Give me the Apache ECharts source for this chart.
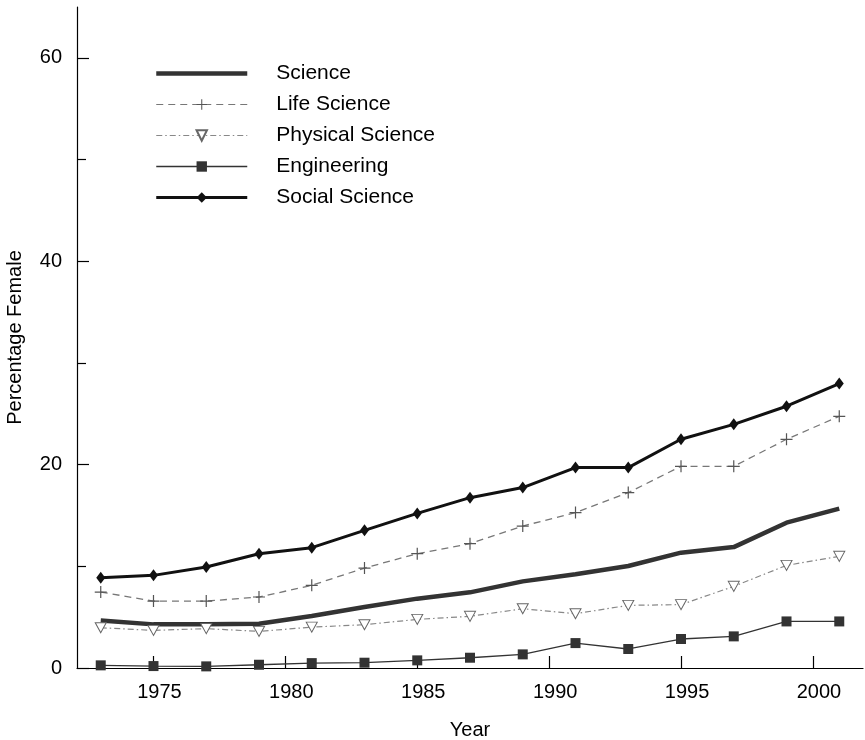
<!DOCTYPE html>
<html><head><meta charset="utf-8">
<script src="https://cdn.jsdelivr.net/npm/echarts@6/dist/echarts.min.js"></script>
<style>html,body{margin:0;padding:0;background:#fff}#c{width:865px;height:740px}</style>
</head><body><div id="c"></div>
<script>
const years = [1973,1975,1977,1979,1981,1983,1985,1987,1989,1991,1993,1995,1997,1999,2001];
const science = [4.68,4.29,4.29,4.36,5.11,5.99,6.82,7.44,8.52,9.21,10.03,11.34,11.89,14.29,15.67];
const lifeScience = [7.47,6.58,6.58,6.98,8.13,9.83,11.24,12.23,13.96,15.28,17.25,19.83,19.83,22.49,24.75];
const physicalScience = [3.96,3.70,3.87,3.60,4.02,4.26,4.78,5.08,5.83,5.34,6.16,6.23,8.03,10.09,10.98];
const engineering = [0.26,0.19,0.16,0.32,0.48,0.52,0.75,1.01,1.34,2.45,1.87,2.85,3.11,4.58,4.58];
const socialScience = [8.88,9.11,9.93,11.24,11.83,13.54,15.2,16.75,17.74,19.71,19.71,22.49,23.96,25.74,27.97];
const xTicks = [1975,1980,1985,1990,1995,2000];
const yMajorTicks = [0,20,40,60];
const yMinorTicks = [10,30,50];
const seriesNames = ['Science','Life Science','Physical Science','Engineering','Social Science'];

const pair = arr => years.map((y,i) => [y, arr[i]]);
const plusPath = 'path://M5.4,0 h1.2 v5.4 h5.4 v1.2 h-5.4 v5.4 h-1.2 v-5.4 h-5.4 v-1.2 h5.4 z';
const FONT = "'Liberation Sans', Arial, Helvetica, sans-serif";

const chart = echarts.init(document.getElementById('c'), null, {renderer:'canvas'});
chart.setOption({
  animation: false,
  backgroundColor: '#fff',
  textStyle: {fontFamily: FONT},
  grid: {left: 77, right: 2, top: 7, bottom: 72, containLabel: false, outerBoundsMode: 'none'},
  legend: {
    orient: 'vertical', left: 149, top: 58,
    itemWidth: 91, itemHeight: 13, itemGap: 10,
    data: [
      {name: seriesNames[0], lineStyle: {width: 4.5}, itemStyle: {opacity: 0}},
      {name: seriesNames[1], lineStyle: {width: 1.2}},
      {name: seriesNames[2], lineStyle: {width: 1.1}},
      {name: seriesNames[3], lineStyle: {width: 1.3}},
      {name: seriesNames[4], lineStyle: {width: 3}}
    ],
    textStyle: {fontSize: 21, color: '#000', lineHeight: 21, padding: [0,0,0,24], fontFamily: FONT}
  },
  xAxis: {
    type: 'value', min: 1972.1, max: 2001.9,
    name: 'Year', nameLocation: 'middle', nameGap: 52,
    nameTextStyle: {fontSize: 20, color: '#000', fontFamily: FONT},
    axisLine: {lineStyle: {color: '#000', width: 1.2}},
    axisTick: {inside: true, length: 12, customValues: xTicks, lineStyle: {color: '#000', width: 1.2}},
    axisLabel: {customValues: xTicks, formatter: v => String(v), fontSize: 20, color: '#000', margin: 14, padding: [0,0,0,12], fontFamily: FONT},
    splitLine: {show: false}
  },
  yAxis: [{
    type: 'value', min: 0, max: 65, position: 'left',
    name: 'Percentage Female', nameLocation: 'middle', nameGap: 52,
    nameTextStyle: {fontSize: 20, color: '#000', fontFamily: FONT},
    axisLine: {show: true, lineStyle: {color: '#000', width: 1.2}},
    axisTick: {show: true, inside: true, length: 12, customValues: yMajorTicks, lineStyle: {color: '#000', width: 1.2}},
    axisLabel: {customValues: yMajorTicks, formatter: v => String(v), fontSize: 20, color: '#000', margin: 15, padding: [8,0,0,0], fontFamily: FONT},
    splitLine: {show: false}
  }, {
    type: 'value', min: 0, max: 65, position: 'left', offset: 0,
    axisLine: {show: false},
    axisTick: {show: true, inside: true, length: 9, customValues: yMinorTicks, lineStyle: {color: '#000', width: 1.2}},
    axisLabel: {show: false},
    splitLine: {show: false}
  }],
  series: [{
    name: 'Science', type: 'line', data: pair(science), symbol: 'none', z: 2,
    lineStyle: {color: '#333', width: 4.5}, itemStyle: {color: '#333'}
  }, {
    name: 'Life Science', type: 'line', data: pair(lifeScience), symbol: plusPath, symbolSize: 12, z: 3,
    lineStyle: {color: '#777', width: 1.3, type: [7,5]}, itemStyle: {color: '#555'}
  }, {
    name: 'Physical Science', type: 'line', data: pair(physicalScience), symbol: 'triangle', symbolRotate: 180, symbolSize: [11,10], z: 3,
    lineStyle: {color: '#888', width: 1.2, type: [6,3,1.5,3]}, itemStyle: {color: '#fff', borderColor: '#666', borderWidth: 1}
  }, {
    name: 'Engineering', type: 'line', data: pair(engineering), symbol: 'rect', symbolSize: 10, z: 3,
    lineStyle: {color: '#333', width: 1.3}, itemStyle: {color: '#333'}
  }, {
    name: 'Social Science', type: 'line', data: pair(socialScience), symbol: 'diamond', symbolSize: [9,12], z: 4,
    lineStyle: {color: '#111', width: 3}, itemStyle: {color: '#111'}
  }]
});
</script>
</body></html>
